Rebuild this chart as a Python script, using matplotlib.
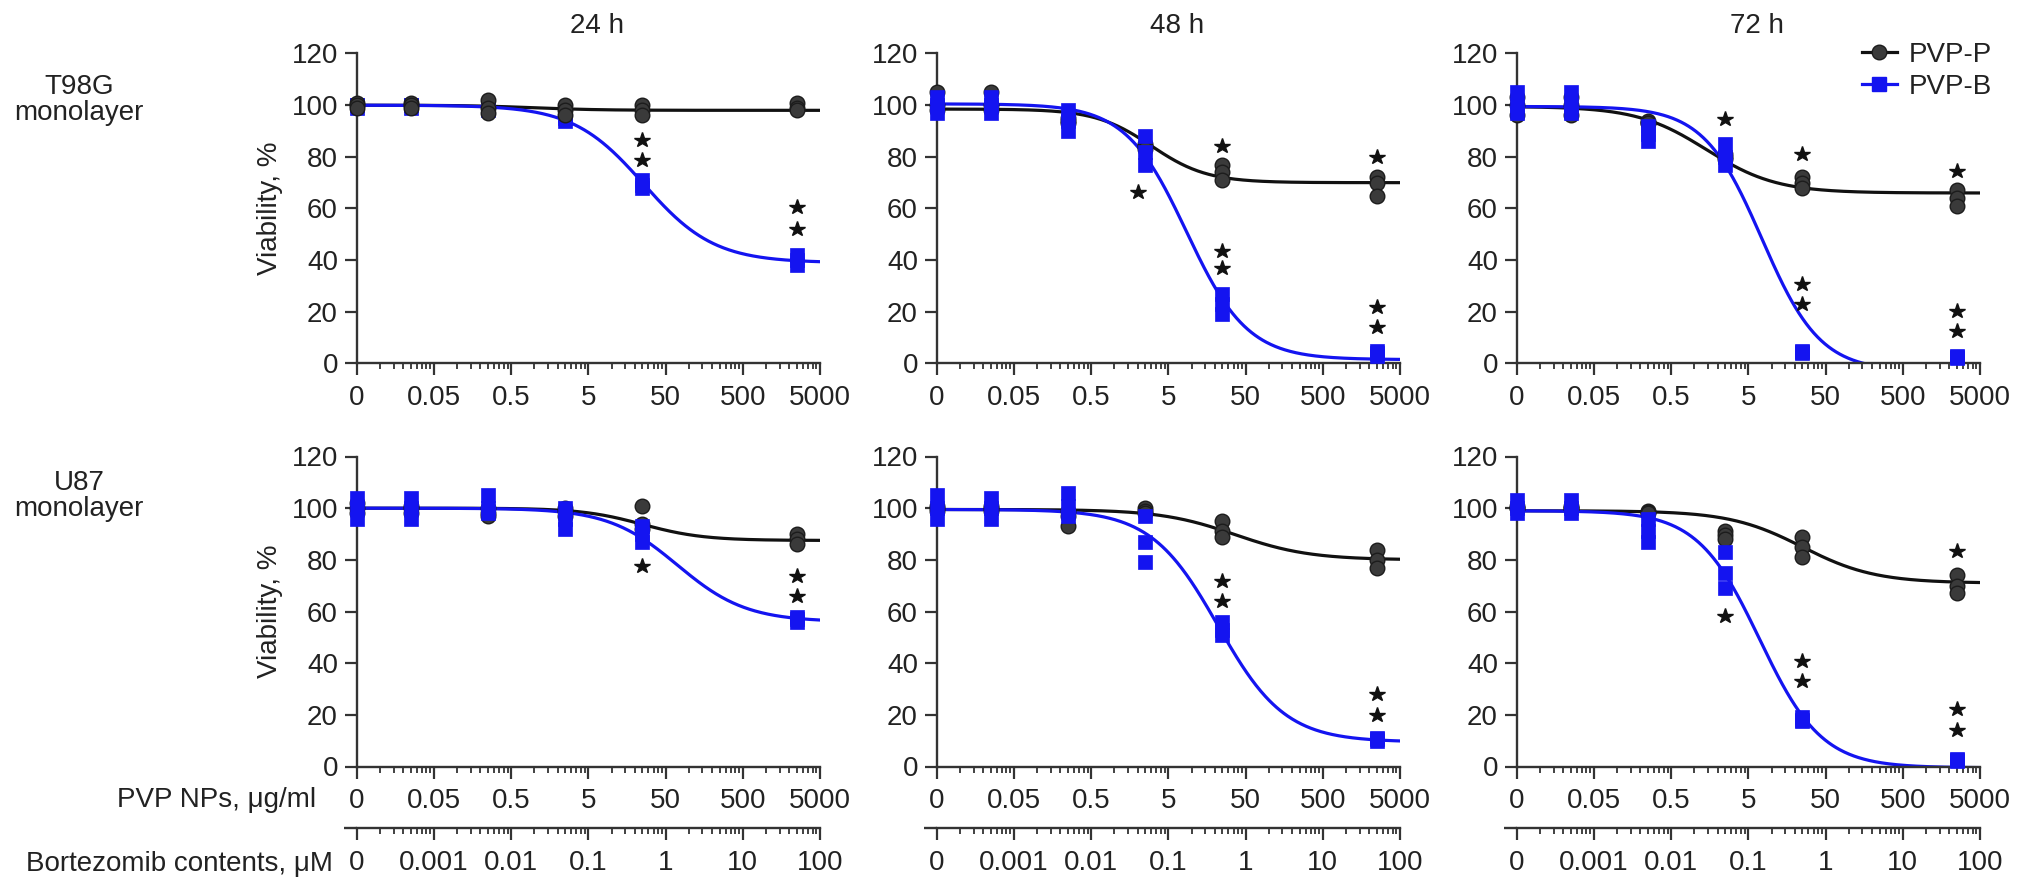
import numpy as np
import matplotlib
matplotlib.use("Agg")
import matplotlib.pyplot as plt
from matplotlib.ticker import FixedLocator, NullFormatter
from matplotlib.lines import Line2D

plt.rcParams['font.family'] = ['Liberation Sans', 'DejaVu Sans']

# ---------------- data ----------------
conc_ugml = [0, 0.025, 0.25, 2.5, 25, 2500]          # PVP NPs, ug/ml
zero_pos = 0.005                                        # where "0" sits on the log axis
pvp_ticks = [0.005, 0.05, 0.5, 5, 50, 500, 5000]
pvp_labels = ['0', '0.05', '0.5', '5', '50', '500', '5000']
bort_ticks = [0.0001, 0.001, 0.01, 0.1, 1, 10, 100]
bort_labels = ['0', '0.001', '0.01', '0.1', '1', '10', '100']
ug_per_uM = 50.0

times = ['24 h', '48 h', '72 h']
cell_lines = ['T98G\nmonolayer', 'U87\nmonolayer']
series_names = ['PVP-P', 'PVP-B']

# replicate viability values (%) per concentration
t98g_24h_P = [[101, 100, 99], [101, 100, 99], [102, 99, 97], [100, 98, 96], [100, 98, 96], [101, 99, 98]]
t98g_24h_B = [[100, 100, 99], [100, 100, 99], [100, 99, 98], [96, 95, 94], [71, 69, 68], [42, 40, 38]]
t98g_48h_P = [[105, 100, 98], [105, 100, 98], [95, 94, 93], [85, 84, 83], [77, 74, 71], [72, 70, 65]]
t98g_48h_B = [[103, 100, 97], [103, 100, 97], [98, 94, 90], [88, 82, 77], [27, 23, 19], [5, 4, 3]]
t98g_72h_P = [[103, 100, 96], [103, 100, 96], [94, 93, 93], [81, 80, 79], [72, 70, 68], [67, 64, 61]]
t98g_72h_B = [[105, 100, 97], [105, 100, 97], [92, 89, 86], [85, 80, 77], [5, 4.5, 4], [3, 2.5, 2]]
u87_24h_P = [[102, 100, 98], [101, 100, 98], [100, 98, 97], [100, 99, 97], [101, 94, 92], [90, 88, 86]]
u87_24h_B = [[104, 100, 96], [104, 100, 96], [105, 100, 98], [100, 96, 92], [93, 90, 87], [58, 57, 56]]
u87_48h_P = [[101, 100, 99], [101, 100, 99], [99, 97, 93], [100, 99, 98], [95, 91, 89], [84, 80, 77]]
u87_48h_B = [[105, 100, 96], [104, 100, 96], [106, 101, 97], [97, 87, 79], [56, 53, 51], [11, 10.5, 10]]
u87_72h_P = [[101, 100, 100], [101, 100, 100], [99, 98.5, 98], [91, 89.5, 88], [89, 85, 81], [74, 70, 67]]
u87_72h_B = [[103, 100, 98], [103, 100, 98], [96, 91, 87], [83, 75, 69], [19, 18, 17.5], [3, 2.5, 2]]

# fitted 4-parameter logistic curves: (top, bottom, EC50 ug/ml, hill)
fit_t98g_24h_P = (100, 98, 1.0, 1.0)
fit_t98g_24h_B = (100, 39, 26, 0.95)
fit_t98g_48h_P = (98.5, 70, 3.0, 1.2)
fit_t98g_48h_B = (100.5, 1.5, 8.6, 1.1)
fit_t98g_72h_P = (99.5, 66, 1.44, 0.96)
fit_t98g_72h_B = (99.5, -3, 7.5, 1.15)
fit_u87_24h_P = (100, 87.5, 25, 1.1)
fit_u87_24h_B = (100, 56, 71, 0.97)
fit_u87_48h_P = (99.5, 80, 36.6, 0.9)
fit_u87_48h_B = (99.5, 9.5, 22, 1.0)
fit_u87_72h_P = (99, 71, 25, 0.92)
fit_u87_72h_B = (99, -0.5, 7.0, 1.08)

# significance stars: (concentration ug/ml, viability position)
stars_t98g_24h = [(25, 86.4), (25, 78.6), (2500, 60.4), (2500, 52.2)]
stars_t98g_48h = [(2.0, 66.5), (25, 84), (25, 43.7), (25, 36.8), (2500, 79.8), (2500, 21.8), (2500, 14)]
stars_t98g_72h = [(2.5, 94.7), (25, 81), (25, 30.7), (25, 22.9), (2500, 74.5), (2500, 20.2), (2500, 12.4)]
stars_u87_24h = [(25, 77.5), (2500, 73.8), (2500, 66)]
stars_u87_48h = [(25, 71.8), (25, 64), (2500, 27.9), (2500, 19.9)]
stars_u87_72h = [(2.5, 58.1), (25, 40.7), (25, 33), (2500, 83.6), (2500, 22.2), (2500, 14.2)]

panels = [
    [(t98g_24h_P, t98g_24h_B, fit_t98g_24h_P, fit_t98g_24h_B, stars_t98g_24h, 'P'),
     (t98g_48h_P, t98g_48h_B, fit_t98g_48h_P, fit_t98g_48h_B, stars_t98g_48h, 'B'),
     (t98g_72h_P, t98g_72h_B, fit_t98g_72h_P, fit_t98g_72h_B, stars_t98g_72h, 'B')],
    [(u87_24h_P, u87_24h_B, fit_u87_24h_P, fit_u87_24h_B, stars_u87_24h, 'B'),
     (u87_48h_P, u87_48h_B, fit_u87_48h_P, fit_u87_48h_B, stars_u87_48h, 'B'),
     (u87_72h_P, u87_72h_B, fit_u87_72h_P, fit_u87_72h_B, stars_u87_72h, 'B')],
]

# ---------------- style ----------------
W, H = 2032, 892
FS = 20
AX_COL = '#333333'
TXT_COL = '#222222'
BLACK_LINE = '#111111'
BLACK_FACE = '#3a3a3a'
BLACK_EDGE = '#1c1c1c'
BLUE = '#1414f0'

col_left_px = [356.7, 936.7, 1516.7]
ax_w_px = 463.3
row_bottom_px = [363.5, 766.5]
ax_h_px = 310.0

fig = plt.figure(figsize=(W / 100, H / 100), dpi=100)

def minor_positions(majors):
    out = []
    for d in majors[:-1]:
        out += [d * m for m in range(2, 10)]
    return out

def logistic(x, p):
    top, bot, ec, hl = p
    return bot + (top - bot) / (1 + (x / ec) ** hl)

xpos = [zero_pos if c == 0 else c for c in conc_ugml]
xs = np.logspace(np.log10(pvp_ticks[0]), np.log10(pvp_ticks[-1]), 500)

for r in range(2):
    for c in range(3):
        P, B, fP, fB, stars, top_series = panels[r][c]
        ax = fig.add_axes([col_left_px[c] / W, 1 - row_bottom_px[r] / H,
                           ax_w_px / W, ax_h_px / H])
        ax.set_xscale('log')
        ax.set_xlim(pvp_ticks[0], pvp_ticks[-1])
        ax.set_ylim(0, 120)

        zP = 4 if top_series == 'P' else 3
        zB = 4 if top_series == 'B' else 3
        ax.plot(xs, logistic(xs, fP), color=BLACK_LINE, lw=2.3, zorder=2)
        ax.plot(xs, logistic(xs, fB), color=BLUE, lw=2.3, zorder=2.1)
        for x, vals in zip(xpos, P):
            ax.plot([x] * len(vals), vals, ls='none', marker='o', ms=10.5,
                    mfc=BLACK_FACE, mec=BLACK_EDGE, mew=1.0, clip_on=False, zorder=zP)
        for x, vals in zip(xpos, B):
            ax.plot([x] * len(vals), vals, ls='none', marker='s', ms=10.5,
                    mfc=BLUE, mec=BLUE, mew=0.5, clip_on=False, zorder=zB)
        sx = [s[0] for s in stars]
        sy = [s[1] for s in stars]
        ax.plot(sx, sy, ls='none', marker='*', ms=11.5, color='#111111',
                clip_on=False, zorder=5)

        for side in ['top', 'right']:
            ax.spines[side].set_visible(False)
        for side in ['left', 'bottom']:
            ax.spines[side].set_linewidth(1.7)
            ax.spines[side].set_color(AX_COL)

        ax.xaxis.set_major_locator(FixedLocator(pvp_ticks))
        ax.set_xticklabels(pvp_labels)
        ax.xaxis.set_minor_locator(FixedLocator(minor_positions(pvp_ticks)))
        ax.xaxis.set_minor_formatter(NullFormatter())
        ax.set_yticks([0, 20, 40, 60, 80, 100, 120])
        ax.tick_params(which='major', direction='out', length=8.5, width=1.6,
                       color=AX_COL, labelsize=FS, labelcolor=TXT_COL)
        ax.tick_params(which='minor', direction='out', length=4.5, width=1.3, color=AX_COL)
        ax.tick_params(axis='x', which='major', pad=7)
        ax.tick_params(axis='y', which='major', pad=5)

        if r == 1:
            loc = -61.5 / ax_h_px
            sec = ax.secondary_xaxis(loc, functions=(lambda v: v / ug_per_uM,
                                                     lambda v: v * ug_per_uM))
            sec.xaxis.set_ticks_position('bottom')
            sec.set_xticks(bort_ticks)
            sec.set_xticklabels(bort_labels)
            sec.xaxis.set_minor_locator(FixedLocator(minor_positions(bort_ticks)))
            sec.xaxis.set_minor_formatter(NullFormatter())
            sec.tick_params(which='major', direction='out', length=8.5, width=1.6,
                            color=AX_COL, labelsize=FS, labelcolor=TXT_COL, pad=7)
            sec.tick_params(which='minor', direction='out', length=4.5, width=1.3, color=AX_COL)
            for side in sec.spines:
                sec.spines[side].set_visible(side == 'bottom')
            sec.spines['bottom'].set_linewidth(1.7)
            sec.spines['bottom'].set_color(AX_COL)
            ax.plot([-12.5 / ax_w_px, 0], [loc, loc], transform=ax.transAxes,
                    color=AX_COL, lw=1.7, clip_on=False, solid_capstyle='butt')

# titles
title_x_px = [597, 1177, 1757]
for c, t in enumerate(times):
    fig.text(title_x_px[c] / W, 1 - 26 / H, t, ha='center', va='center',
             fontsize=FS, color=TXT_COL)

# row labels
row_label_y_px = [100, 496]
for r, lab in enumerate(cell_lines):
    fig.text(79 / W, 1 - row_label_y_px[r] / H, lab, ha='center', va='center',
             fontsize=FS, color=TXT_COL, linespacing=1.05)

# y labels
for r in range(2):
    yc = row_bottom_px[r] - ax_h_px / 2
    fig.text(270 / W, 1 - yc / H, 'Viability, %', rotation=90, ha='center',
             va='center', fontsize=FS, color=TXT_COL)

# x axis names (bottom row)
fig.text(316 / W, 1 - 800 / H, 'PVP NPs, \u03bcg/ml', ha='right', va='center',
         fontsize=FS, color=TXT_COL)
fig.text(333 / W, 1 - 864 / H, 'Bortezomib contents, \u03bcM', ha='right',
         va='center', fontsize=FS, color=TXT_COL)

# legend
hP = Line2D([], [], color=BLACK_LINE, lw=2.3, marker='o', ms=10.5, mfc=BLACK_FACE, mec=BLACK_EDGE)
hB = Line2D([], [], color=BLUE, lw=2.3, marker='s', ms=10.5, mfc=BLUE, mec=BLUE)
fig.legend([hP, hB], series_names, loc='upper left',
           bbox_to_anchor=(1862 / W, 1 - 42 / H), frameon=False, fontsize=FS,
           handlelength=1.25, handletextpad=0.45, labelspacing=0.22,
           borderpad=0, borderaxespad=0, labelcolor=TXT_COL)

fig.savefig('out.png', dpi=100, facecolor='white')
